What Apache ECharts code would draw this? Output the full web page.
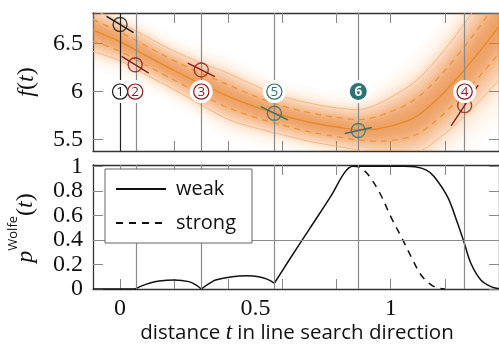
<!DOCTYPE html>
<html><head><meta charset="utf-8">
<script src="https://cdn.jsdelivr.net/npm/echarts@6/dist/echarts.min.js"></script>
<style>html,body{margin:0;padding:0;background:#fff;}#c{width:499px;height:347px;}</style>
</head><body><div id="c"></div>
<script>
// ---------- data ----------
const T_GRID  = [-0.1, 0, 0.1, 0.2, 0.3, 0.4, 0.5, 0.6, 0.7, 0.8, 0.9, 1.0, 1.1, 1.2, 1.3, 1.4];
const GP_MEAN = [6.64, 6.52, 6.37, 6.22, 6.08, 5.95, 5.84, 5.75, 5.68, 5.63, 5.60, 5.64, 5.75, 6.00, 6.32, 6.68];
const GP_SD   = [0.11, 0.10, 0.10, 0.10, 0.11, 0.12, 0.11, 0.10, 0.10, 0.10, 0.11, 0.15, 0.19, 0.22, 0.25, 0.28];

const OBS_ID  = [1, 2, 3, 4, 5, 6];
const OBS_T   = [0, 0.056, 0.30, 1.273, 0.57, 0.88];
const OBS_F   = [6.70, 6.28, 6.226, 5.854, 5.774, 5.594];
const OBS_DF  = [-1.68, -1.73, -1.40, 4.25, -1.37, 0.62];
const OBS_KIND = ['first', 'red', 'red', 'red', 'teal', 'tealFilled'];
const LABEL_F = 6;

const WEAK = [
  [-0.1, 0], [0.056, 0], [0.056, null],
  [0.056, 0], [0.08, 0.025], [0.108, 0.047], [0.144, 0.065], [0.2, 0.074], [0.255, 0.06], [0.28, 0.033], [0.30, 0], [0.30, null],
  [0.30, 0], [0.33, 0.045], [0.353, 0.073], [0.414, 0.10], [0.469, 0.108], [0.512, 0.10], [0.543, 0.08], [0.57, 0.047], [0.57, null],
  [0.57, 0.047], [0.62, 0.22], [0.70, 0.49], [0.78, 0.76], [0.83, 0.95], [0.86, 1.0], [0.95, 1.0], [1.05, 1.0], [1.09, 0.995],
  [1.13, 0.97], [1.16, 0.917], [1.21, 0.75], [1.247, 0.536], [1.272, 0.373], [1.296, 0.21], [1.333, 0.073], [1.37, 0.019], [1.4, 0.003]
];
const STRONG = [
  [0.86, 1.0], [0.886, 0.99], [0.917, 0.93], [0.96, 0.78], [1.0, 0.59], [1.04, 0.42], [1.076, 0.26],
  [1.11, 0.12], [1.14, 0.05], [1.17, 0.01], [1.2, 0]
];
const P_THRESHOLD = 0.4;

const X_TICKS = [0, 0.2, 0.4, 0.6, 0.8, 1.0, 1.2, 1.4];
const X_LABELS = [0, 0.5, 1];
const F_TICKS = [5.5, 6, 6.5];
const P_TICKS = [0, 0.2, 0.4, 0.6, 0.8, 1];

// ---------- styling ----------
const SERIF = "'Liberation Serif', 'DejaVu Serif', serif";
const SANS = "'Open Sans', 'Noto Sans', sans-serif";
const COL = { first: '#1a1a1a', red: '#8b1c1c', teal: '#2f7372', tealFilled: '#2f7372' };
const ORANGE = [238, 138, 48];
const FRAME = '#333';

const tickCommon = (vals) => ({ show: true, inside: true, length: 10, customValues: vals, lineStyle: { color: '#888', width: 1 } });
const lineCommon = { show: true, onZero: false, lineStyle: { color: FRAME, width: 1.3 } };

function xAxis(grid, pos, labels) {
  return {
    type: 'value', gridIndex: grid, position: pos, min: -0.1, max: 1.4,
    axisLine: lineCommon, axisTick: tickCommon(X_TICKS), splitLine: { show: false },
    axisLabel: labels ? { show: true, customValues: X_LABELS, fontFamily: SERIF, fontSize: 24, color: '#111', margin: 8 } : { show: false }
  };
}
function yAxis(grid, pos, min, max, ticks, labels) {
  return {
    type: 'value', gridIndex: grid, position: pos, min: min, max: max,
    axisLine: lineCommon, axisTick: tickCommon(ticks), splitLine: { show: false },
    axisLabel: labels ? { show: true, customValues: ticks, fontFamily: SERIF, fontSize: 24, color: '#111', margin: 10 } : { show: false }
  };
}

// Catmull-Rom path through pixel points (rendering only)
function crSegs(P) {
  let d = '';
  for (let i = 0; i < P.length - 1; i++) {
    const p0 = P[Math.max(i - 1, 0)], p1 = P[i], p2 = P[i + 1], p3 = P[Math.min(i + 2, P.length - 1)];
    const c1 = [p1[0] + (p2[0] - p0[0]) / 6, p1[1] + (p2[1] - p0[1]) / 6];
    const c2 = [p2[0] - (p3[0] - p1[0]) / 6, p2[1] - (p3[1] - p1[1]) / 6];
    d += ' C' + c1[0].toFixed(2) + ',' + c1[1].toFixed(2) + ' ' + c2[0].toFixed(2) + ',' + c2[1].toFixed(2) + ' ' + p2[0].toFixed(2) + ',' + p2[1].toFixed(2);
  }
  return d;
}
const pt = p => p[0].toFixed(2) + ',' + p[1].toFixed(2);

// density shading levels
const NL = 30, KMAX = 3.8, AMP = 0.7, WID = 1.35;
const Qf = d => 1 - AMP * Math.exp(-d * d / (2 * WID * WID));
const LEVELS = [];
for (let j = 1; j <= NL; j++) {
  const k = KMAX * j / NL, kp = KMAX * (j - 1) / NL;
  const qj = (j === NL) ? 1 : Qf(k);
  LEVELS.push({ k: k, a: 1 - Qf(kp) / qj });
}
const GP_LINES = [
  { m: 2, stroke: '#f3b885', lineWidth: 1 },
  { m: -2, stroke: '#f3b885', lineWidth: 1 },
  { m: 1, stroke: '#eb9440', lineWidth: 1.3, lineDash: [6, 5] },
  { m: -1, stroke: '#eb9440', lineWidth: 1.3, lineDash: [6, 5] },
  { m: 0, stroke: '#e8892c', lineWidth: 1.4 }
];

const series = [];
series.push({
  type: 'custom', xAxisIndex: 0, yAxisIndex: 0, z: 1, silent: true, clip: true,
  encode: { x: 0, y: 1 }, data: [[T_GRID[0], GP_MEAN[0]]],
  renderItem: (params, api) => {
    const children = [];
    LEVELS.forEach(L => {
      const U = T_GRID.map((t, i) => api.coord([t, GP_MEAN[i] + L.k * GP_SD[i]]));
      const D = T_GRID.map((t, i) => api.coord([t, GP_MEAN[i] - L.k * GP_SD[i]])).reverse();
      const d = 'M' + pt(U[0]) + crSegs(U) + ' L' + pt(D[0]) + crSegs(D) + ' Z';
      children.push({ type: 'path', shape: { pathData: d },
        style: { fill: `rgba(${ORANGE[0]},${ORANGE[1]},${ORANGE[2]},${L.a.toFixed(4)})`, stroke: null } });
    });
    GP_LINES.forEach(G => {
      const P = T_GRID.map((t, i) => api.coord([t, GP_MEAN[i] + G.m * GP_SD[i]]));
      children.push({ type: 'path', shape: { pathData: 'M' + pt(P[0]) + crSegs(P) },
        style: { fill: null, stroke: G.stroke, lineWidth: G.lineWidth, lineDash: G.lineDash || null } });
    });
    return { type: 'group', children: children };
  }
});

// vertical lines at evaluation points (top panel)
series.push({
  type: 'line', xAxisIndex: 0, yAxisIndex: 0, symbol: 'none', silent: true, z: 3, data: [],
  markLine: {
    silent: true, symbol: 'none', label: { show: false },
    data: OBS_T.map((t, i) => ({ xAxis: t, lineStyle: { color: i === 0 ? '#222' : '#8a8a8a', width: 1.2, type: 'solid' } }))
  }
});

// derivative segments
series.push({
  type: 'custom', xAxisIndex: 0, yAxisIndex: 0, z: 6, silent: true,
  encode: { x: 0, y: 1 },
  data: OBS_T.map((t, i) => [t, OBS_F[i], OBS_DF[i], i]),
  renderItem: (params, api) => {
    const t = api.value(0), f = api.value(1), s = api.value(2), i = api.value(3);
    const p1 = api.coord([t - 0.05, f - 0.05 * s]);
    const p2 = api.coord([t + 0.05, f + 0.05 * s]);
    return { type: 'line', shape: { x1: p1[0], y1: p1[1], x2: p2[0], y2: p2[1] },
      style: { stroke: COL[OBS_KIND[i]], lineWidth: 1.4 } };
  }
});
// observation circles
series.push({
  type: 'scatter', xAxisIndex: 0, yAxisIndex: 0, z: 7, silent: true, symbol: 'circle', symbolSize: 14,
  data: OBS_T.map((t, i) => ({ value: [t, OBS_F[i]],
    itemStyle: { color: 'rgba(0,0,0,0)', borderColor: COL[OBS_KIND[i]], borderWidth: 1.4 } }))
});
// label backgrounds
series.push({
  type: 'custom', xAxisIndex: 0, yAxisIndex: 0, z: 8, silent: true, encode: { x: 0, y: 1 },
  data: OBS_T.map((t, i) => [t, LABEL_F, i]),
  renderItem: (params, api) => {
    const c = api.coord([api.value(0), api.value(1)]);
    return { type: 'circle', shape: { cx: c[0], cy: c[1], r: 11.5 }, style: { fill: '#fff' } };
  }
});
// label rings + digits
series.push({
  type: 'custom', xAxisIndex: 0, yAxisIndex: 0, z: 9, silent: true, encode: { x: 0, y: 1 },
  data: OBS_T.map((t, i) => [t, LABEL_F, i]),
  renderItem: (params, api) => {
    const c = api.coord([api.value(0), api.value(1)]);
    const i = api.value(2);
    const kind = OBS_KIND[i], col = COL[kind];
    const filled = kind === 'tealFilled';
    return { type: 'group', children: [
      { type: 'circle', shape: { cx: c[0], cy: c[1], r: filled ? 8.5 : 7.6 },
        style: filled ? { fill: col } : { fill: 'none', stroke: col, lineWidth: 1.2 } },
      { type: 'text', x: c[0], y: c[1] + 0.5,
        style: { text: String(OBS_ID[i]), fill: filled ? '#fff' : col, font: (filled ? 'bold ' : '') + "13.5px 'Open Sans', sans-serif",
          align: 'center', verticalAlign: 'middle' } }
    ] };
  }
});

// Wolfe probability
series.push({
  name: 'weak', type: 'line', xAxisIndex: 2, yAxisIndex: 2, smooth: 0.35, symbol: 'none', z: 4, connectNulls: false,
  lineStyle: { color: '#111', width: 1.5 }, itemStyle: { color: '#111' },
  data: WEAK,
  markLine: {
    silent: true, symbol: 'none', label: { show: false },
    lineStyle: { color: '#8a8a8a', width: 1.2, type: 'solid' },
    data: OBS_T.slice(1).map(t => ({ xAxis: t })).concat([{ yAxis: P_THRESHOLD }])
  }
});
series.push({
  name: 'strong', type: 'line', xAxisIndex: 2, yAxisIndex: 2, smooth: 0.35, symbol: 'none', z: 4,
  lineStyle: { color: '#111', width: 1.5, type: [7, 6] }, itemStyle: { color: '#111' },
  data: STRONG
});

const option = {
  animation: false,
  backgroundColor: '#fff',
  grid: [
    { left: 93, top: 13, width: 408, height: 138 },
    { left: 93, top: 165, width: 408, height: 124 }
  ],
  xAxis: [xAxis(0, 'bottom', false), xAxis(0, 'top', false), xAxis(1, 'bottom', true), xAxis(1, 'top', false)],
  yAxis: [
    yAxis(0, 'left', 5.38, 6.82, F_TICKS, true),
    yAxis(0, 'right', 5.38, 6.82, F_TICKS, false),
    yAxis(1, 'left', 0, 1.01, P_TICKS, true),
    yAxis(1, 'right', 0, 1.01, P_TICKS, false)
  ],
  legend: {
    data: ['weak', 'strong'], left: 105, top: 169, orient: 'vertical',
    backgroundColor: '#fff', borderColor: '#666', borderWidth: 1, borderRadius: 0,
    padding: [10, 16, 10, 10], itemWidth: 50, itemHeight: 20, itemGap: 14,
    itemStyle: { opacity: 0 },
    textStyle: { fontFamily: SANS, fontSize: 20, color: '#111', padding: [0, 0, 0, 5] }, z: 10
  },
  graphic: [
    { type: 'text', x: 27, y: 82, rotation: Math.PI / 2, z: 10,
      style: { text: '{i|f}{n|(}{i|t}{n|)}', align: 'center', verticalAlign: 'middle',
        rich: { i: { fontFamily: SERIF, fontStyle: 'italic', fontSize: 24, fill: '#111' }, n: { fontFamily: SERIF, fontSize: 24, fill: '#111' } } } },
    { type: 'text', x: 22, y: 228, rotation: Math.PI / 2, z: 10,
      style: { text: '{p|p}{s|Wolfe}{n|(}{i|t}{n|)}', align: 'center', verticalAlign: 'middle',
        rich: {
          p: { fontFamily: SERIF, fontStyle: 'italic', fontSize: 24, fill: '#111', verticalAlign: 'bottom', padding: [7, 0, 0, 0] },
          s: { fontFamily: SANS, fontSize: 13, fill: '#111', verticalAlign: 'top' },
          i: { fontFamily: SERIF, fontStyle: 'italic', fontSize: 24, fill: '#111', verticalAlign: 'bottom', padding: [7, 0, 0, 0] },
          n: { fontFamily: SERIF, fontSize: 24, fill: '#111', verticalAlign: 'bottom', padding: [7, 0, 0, 0] }
        } } },
    { type: 'text', x: 297, y: 333, z: 10,
      style: { text: '{n|distance }{i|t}{n| in line search direction}', align: 'center', verticalAlign: 'middle',
        rich: { n: { fontFamily: SANS, fontSize: 20.5, fill: '#111' }, i: { fontFamily: SERIF, fontStyle: 'italic', fontSize: 23, fill: '#111' } } } }
  ],
  series: series
};
const chart = echarts.init(document.getElementById('c'));
chart.setOption(option);
</script></body></html>
